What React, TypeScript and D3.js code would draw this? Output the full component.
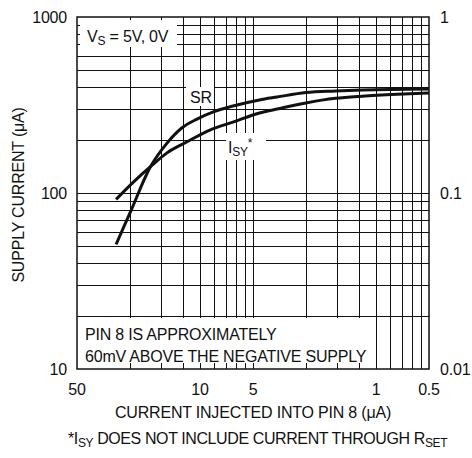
import React from "react";
import * as d3 from "d3";

// ---- data ----
const srInjected = [30, 25, 19.2, 15.4, 12.7, 10.4, 8.4, 6.5, 4.6, 3.65, 2.5, 1.7, 1.2, 0.5];
const srSupply = [51, 77, 140, 192, 234, 263, 289, 312, 338, 351, 372, 380, 385, 390];
const isyInjected = [30, 24, 18.7, 15.4, 11.9, 8.8, 6.5, 4.6, 3.65, 2.5, 1.7, 1.2, 0.76, 0.5];
const isySupply = [92, 115, 144, 169, 195, 228, 253, 285, 300, 325, 345, 355, 364, 370];

const xTickValues = [50, 10, 5, 1, 0.5];
const xTickLabels = ["50", "10", "5", "1", "0.5"];
const yTickValues = [10, 100, 1000];
const yTickLabels = ["10", "100", "1000"];
const yRightValues = [0.01, 0.1, 1];
const yRightLabels = ["0.01", "0.1", "1"];
const gridSteps = [2, 3, 4, 5, 6, 7, 8, 9];

const W = 472;
const H = 458;
const L = 77, R = 429, T = 17, B = 369;
const FONT = "'Liberation Sans', Arial, sans-serif";
const INK = "#111";

export default function App() {
  const x = d3.scaleLog().domain([50, 0.5]).range([L, R]);
  const y = d3.scaleLog().domain([10, 1000]).range([B, T]);
  const yR = d3.scaleLog().domain([0.01, 1]).range([B, T]);

  // horizontal grid: standard log paper
  const yGrid: number[] = [];
  [10, 100].forEach((dec) => gridSteps.forEach((k) => yGrid.push(k * dec)));
  yGrid.push(100);
  // vertical grid: log paper cycles starting at the left edge of each decade
  const xGrid: number[] = [];
  [50, 5].forEach((start) => gridSteps.forEach((k) => xGrid.push(start / k)));
  xGrid.push(5);

  const px = (v: number) => Math.round(v) + 0.5;

  const line = d3
    .line<[number, number]>()
    .x((d) => x(d[0]))
    .y((d) => y(d[1]))
    .curve(d3.curveMonotoneX);

  const srPath = line(srInjected.map((v, i) => [v, srSupply[i]] as [number, number])) || "";
  const isyPath = line(isyInjected.map((v, i) => [v, isySupply[i]] as [number, number])) || "";

  return (
    <svg
      width={W}
      height={H}
      style={{ position: "absolute", left: 0, top: 0, background: "#fff" }}
      fontFamily={FONT}
      fill={INK}
    >
      <rect x={0} y={0} width={W} height={H} fill="#fff" />
      {/* grid */}
      <g stroke={INK} strokeWidth={1}>
        {yGrid.map((v, i) => (
          <line key={"h" + i} x1={L} x2={R} y1={px(y(v))} y2={px(y(v))} />
        ))}
        {xGrid.map((v, i) => (
          <line key={"v" + i} x1={px(x(v))} x2={px(x(v))} y1={T} y2={B} />
        ))}
      </g>
      {/* label backgrounds */}
      <g fill="#fff">
        <rect x={80} y={20} width={97} height={27} />
        <rect x={186} y={87} width={28} height={19} />
        <rect x={226} y={133} width={40} height={27} />
        <rect x={78} y={318} width={295} height={45} />
      </g>
      {/* curves */}
      <path d={srPath} fill="none" stroke={INK} strokeWidth={3} />
      <path d={isyPath} fill="none" stroke={INK} strokeWidth={3} />
      {/* frame */}
      <rect x={L} y={T} width={R - L} height={B - T} fill="none" stroke={INK} strokeWidth={1.5} />

      <g fontSize={16} letterSpacing={-0.2}>
        {/* in-plot labels */}
        <text x={87} y={42}>
          V<tspan fontSize={12} dy={3}>S</tspan>
          <tspan dy={-3}> = 5V, 0V</tspan>
        </text>
        <text x={190} y={103}>SR</text>
        <text x={228} y={153}>
          I<tspan fontSize={12} dy={3}>SY</tspan>
          <tspan fontSize={12} dy={-9}>*</tspan>
        </text>
        <text x={85} y={340}>PIN 8 IS APPROXIMATELY</text>
        <text x={85} y={362}>60mV ABOVE THE NEGATIVE SUPPLY</text>

        {/* x ticks */}
        {xTickValues.map((v, i) => (
          <text key={"xt" + i} x={x(v)} y={395} textAnchor="middle">
            {xTickLabels[i]}
          </text>
        ))}
        {/* left y ticks */}
        {yTickValues.map((v, i) => (
          <text key={"yt" + i} x={67} y={y(v) + 6} textAnchor="end">
            {yTickLabels[i]}
          </text>
        ))}
        {/* right y ticks */}
        {yRightValues.map((v, i) => (
          <text key={"yr" + i} x={440} y={yR(v) + 6} textAnchor="start">
            {yRightLabels[i]}
          </text>
        ))}

        {/* axis titles */}
        <text x={(L + R) / 2} y={418} textAnchor="middle">
          CURRENT INJECTED INTO PIN 8 (μA)
        </text>
        <text transform={`translate(24, ${(T + B) / 2 + 2}) rotate(-90)`} textAnchor="middle">
          SUPPLY CURRENT (μA)
        </text>
        <text x={68} y={444} letterSpacing={-0.4}>
          *I<tspan fontSize={12} dy={3}>SY</tspan>
          <tspan dy={-3}> DOES NOT INCLUDE CURRENT THROUGH R</tspan>
          <tspan fontSize={12} dy={3}>SET</tspan>
        </text>
      </g>
    </svg>
  );
}
